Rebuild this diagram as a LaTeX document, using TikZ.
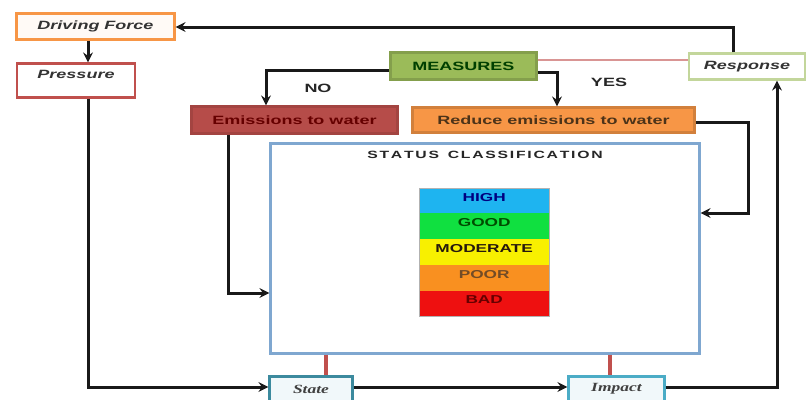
\documentclass[tikz,border=0pt]{standalone}
\usepackage{fontspec}
\setmainfont{Liberation Sans}
\newfontfamily\labf[FakeStretch=1.5]{Liberation Sans}
\newfontfamily\labs[FakeStretch=1.4]{Liberation Serif}
\usetikzlibrary{arrows.meta}
\definecolor{cOrange}{HTML}{F79646}
\definecolor{cRed}{HTML}{C0504D}
\definecolor{cOlive}{HTML}{9BBB59}
\definecolor{cLtGreen}{HTML}{C3D69B}
\definecolor{cBlue}{HTML}{7FA7D0}
\definecolor{cTeal}{HTML}{4BACC6}
\definecolor{cPink}{HTML}{D99594}
\definecolor{bHigh}{HTML}{1EB4F0}
\definecolor{bGood}{HTML}{10E040}
\definecolor{bMod}{HTML}{F8F000}
\definecolor{bPoor}{HTML}{F99020}
\definecolor{bBad}{HTML}{EE1010}
\tikzset{
  x=1pt, y=-1pt,
  box/.style={draw, line width=2.2pt, minimum width=#1, inner sep=0pt, anchor=center},
  lbl/.style={font=\labf\fontsize{12}{12}\selectfont\bfseries},
  ilbl/.style={font=\labf\fontsize{12}{12}\selectfont\bfseries\itshape},
  slbl/.style={font=\labs\fontsize{12.5}{12.5}\selectfont\bfseries\itshape},
  conn/.style={line width=3pt, black!90, -{Stealth[length=10pt,width=10pt,inset=3.5pt]}},
  band/.style={minimum width=130pt, minimum height=26pt, inner sep=0pt, anchor=north west, text depth=8pt, text height=8pt,
    font=\labf\fontsize{11.5}{11.5}\selectfont\bfseries},
  redlink/.style={line width=3.5pt, cRed},
}
\begin{document}
\begin{tikzpicture}
\useasboundingbox (0,0) rectangle (806,399);
\clip (0,0) rectangle (806,399);
\fill[white] (0,0) rectangle (806,399);

% nodes
\node[box=158pt, minimum height=26pt, draw=cOrange, fill=cOrange!5, ilbl, text=black!80] (df) at (95.5,26.5) {Driving Force};
\node[box=118pt, minimum height=34pt, draw=cRed, fill=white, ilbl, text=black!80, text height=8pt, text depth=13pt] (pr) at (76,80.5) {Pressure};
\node[box=146pt, minimum height=27pt, draw=cOlive!85!black, fill=cOlive, lbl, text=black!75!green] (me) at (463.5,66) {MEASURES};
\node[box=116pt, minimum height=26pt, draw=cLtGreen, fill=white, ilbl, text=black!80] (re) at (747,66.5) {Response};
\node[box=206pt, minimum height=27pt, draw=cRed!85!black, fill=cRed!95!black, lbl, text=black!60!red] (em) at (294.5,120) {Emissions to water};
\node[box=282pt, minimum height=25pt, draw=cOrange!85!black, fill=cOrange, lbl, text=black!60!brown] (rd) at (553.5,120) {Reduce emissions to water};
\node[box=429pt, minimum height=210pt, draw=cBlue, fill=white] (st) at (485,248.5) {};
\node[font=\labf\fontsize{10.5}{10.5}\selectfont\bfseries, text=black!85] (sttitle) at (485,155) {S\,T\,A\,T\,U\,S \ C\,L\,A\,S\,S\,I\,F\,I\,C\,A\,T\,I\,O\,N};
\node[box=83pt, minimum height=25pt, draw=cTeal!80!black, fill=cTeal!8, slbl, text=black!75] (state) at (311,389) {State};
\node[box=96pt, minimum height=25pt, draw=cTeal, fill=cTeal!8, slbl, text=black!75] (impact) at (616.5,389) {Impact};

% colour scale
\node[band, fill=bHigh, text=blue!50!black] (high) at (419,188) {HIGH};
\node[band, fill=bGood, text=green!30!black] (good) at (419,213) {GOOD};
\node[band, fill=bMod, text=black!80!brown] (mod) at (419,239) {MODERATE};
\node[band, fill=bPoor, text=brown!60!black] (poor) at (419,265) {POOR};
\node[band, fill=bBad, text=red!40!black, minimum height=25pt] (bad) at (419,291) {BAD};
\draw[gray!60, line width=1pt] (high.north west) rectangle (bad.south east);

% labels
\node[lbl, text=black!85] (no) at (318,88) {NO};
\node[lbl, text=black!85] (yes) at (609,82) {YES};

% connectors
\draw[conn] (88,0 |- df.south) -- (88,0 |- pr.north);
\draw[conn] (re.north -| 733,0) |- (df.east |- 0,27);
\draw[line width=2pt, cPink] (me.east |- 0,60) -- (re.west |- 0,60);
\draw[conn] (me.west |- 0,70) -| (266,0 |- em.north);
\draw[conn] (me.east |- 0,72) -| (557,0 |- rd.north);
\draw[conn] (228,0 |- em.south) |- (st.west |- 0,293);
\draw[conn] (rd.east |- 0,122) -| (748,213) -- (st.east |- 0,213);
\draw[conn] (88,0 |- pr.south) |- (state.west |- 0,387);
\draw[conn] (state.east |- 0,387) -- (impact.west |- 0,387);
\draw[conn] (impact.east |- 0,387) -| (777,0 |- re.south);
\draw[redlink] (326,0 |- st.south) -- (326,0 |- state.north);
\draw[redlink] (610,0 |- st.south) -- (610,0 |- impact.north);
\end{tikzpicture}
\end{document}
